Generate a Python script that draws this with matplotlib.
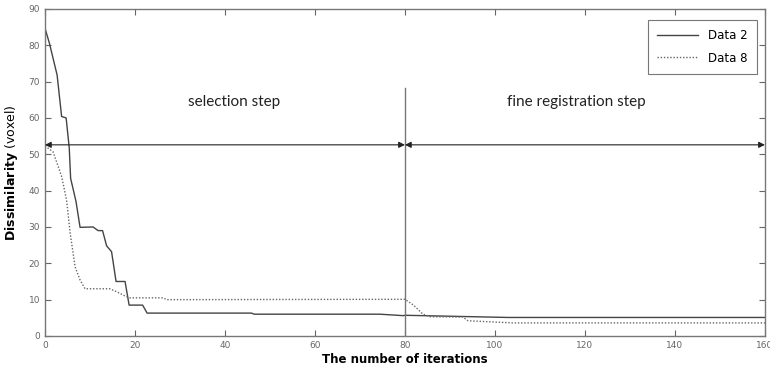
import numpy as np
import matplotlib
matplotlib.use('Agg')
import matplotlib.pyplot as plt

# Data 2 (solid)
x2 = [0, 1, 2.7, 3.7, 4.7, 5.4, 5.7, 6.9, 7.8, 10.7, 11.8, 12.8, 13.7, 14.8, 15.8, 17.8, 18.7,
      21.7, 22.7, 45.9, 46.5, 74.4, 79.6, 80, 103, 160]
y2 = [84.7, 80.5, 71.8, 60.4, 60, 51.7, 43.4, 37, 29.9, 30, 29, 29, 24.8, 23.2, 15, 15, 8.5,
      8.5, 6.3, 6.3, 6.0, 6.0, 5.6, 5.7, 5.1, 5.1]

# Data 8 (dotted)
x8 = [0, 1.8, 3.7, 4.8, 5.6, 6.7, 7.8, 8.9, 14.4, 15.9, 17.8, 18.9, 26.3, 27, 80,
      81.9, 84, 85.6, 92.9, 94, 104, 160]
y8 = [52.3, 50.7, 43.9, 37.4, 28.3, 19, 15.4, 13, 13, 12.2, 11, 10.5, 10.5, 10, 10.1,
      8.5, 6, 5.3, 5.2, 4.2, 3.6, 3.6]

xticks = np.arange(0, 161, 20)
yticks = np.arange(0, 91, 10)

fig = plt.figure(figsize=(7.7, 3.7), dpi=100)
ax = fig.add_axes([0.0584, 0.0919, 0.935, 0.884])

ax.plot(x2, y2, '-', color='#444444', lw=1.0, label='Data 2')
ax.plot(x8, y8, linestyle=(0, (1, 1.3)), color='#666666', lw=1.0, label='Data 8')

ax.set_xlim(0, 160)
ax.set_ylim(0, 90)
ax.set_xticks(xticks)
ax.set_yticks(yticks)
ax.tick_params(direction='in', top=True, right=True, labelsize=6.5,
               colors='#666666', length=4, width=0.8)
for sp in ax.spines.values():
    sp.set_color('#777777')
    sp.set_linewidth(1.0)

# step separator and arrows
ax.plot([80, 80], [0, 68.3], color='#777777', lw=1.0)
arr = dict(arrowstyle='<|-|>', color='#222222', lw=0.8, mutation_scale=9, shrinkA=0, shrinkB=0)
ax.annotate('', xy=(0, 52.6), xytext=(80, 52.6), arrowprops=arr)
ax.annotate('', xy=(160, 52.6), xytext=(80, 52.6), arrowprops=arr)
ax.text(42, 64.5, 'selection step', ha='center', va='center', fontsize=11,
        family='Lato', color='#222222')
ax.text(118, 64.5, 'fine registration step', ha='center', va='center', fontsize=11,
        family='Lato', color='#222222')

ax.set_xlabel('The number of iterations', fontsize=8.5, fontweight='bold', labelpad=2)
ax.set_ylabel(r'$\bf{Dissimilarity}$ (voxel)', fontsize=9, labelpad=6)

leg = ax.legend(loc='upper right', fontsize=8.5, frameon=True, fancybox=False,
                edgecolor='#555555', handlelength=3.5, borderpad=0.8, labelspacing=0.8,
                bbox_to_anchor=(0.997, 0.985))
leg.get_frame().set_linewidth(0.8)

fig.savefig('out.png', dpi=100)
